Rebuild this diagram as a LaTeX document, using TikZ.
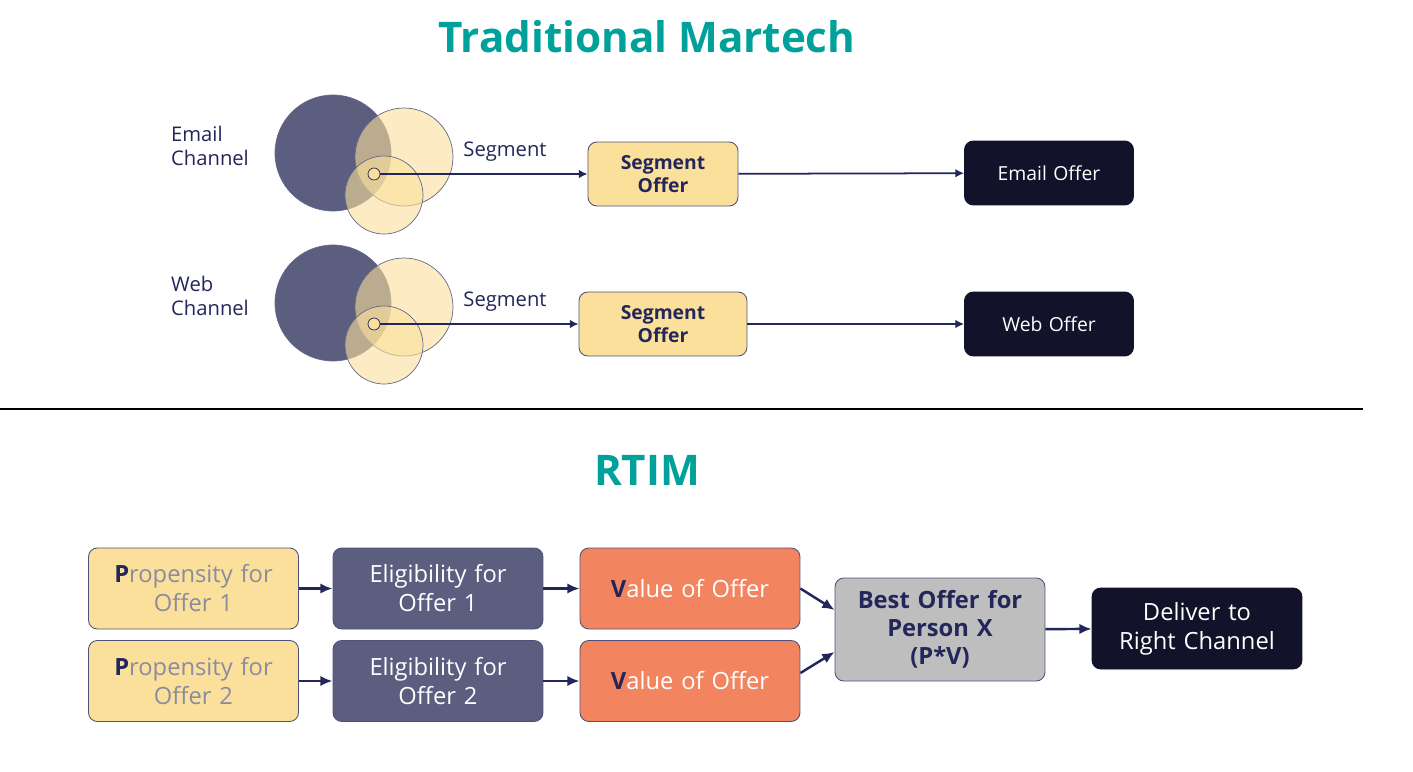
\documentclass[tikz,border=0pt]{standalone}
\usepackage{fontspec}
\setmainfont{Open Sans}
\usetikzlibrary{arrows.meta}
\definecolor{teal}{HTML}{00A19A}
\definecolor{navy}{HTML}{23265A}
\definecolor{dark}{HTML}{12122A}
\definecolor{cream}{HTML}{FBE09B}
\definecolor{slate}{HTML}{5C5E80}
\definecolor{coral}{HTML}{F28560}
\definecolor{greyb}{HTML}{BEBEBE}
\definecolor{greyt}{HTML}{8B8BA0}
\begin{document}
\begin{tikzpicture}[x=0.02cm,y=-0.02cm,
  box/.style={draw=navy!80,line width=0.5pt,rounded corners=5pt,align=center,inner sep=0pt},
  arr/.style={navy,line width=1.4pt,-{Latex[length=7pt,width=6pt]}},
  arrs/.style={navy,line width=1pt,-{Latex[length=5pt,width=5pt]}},
  lbl/.style={text=navy,font=\fontsize{11.5}{14}\selectfont,align=left},
  big/.style={font=\fontsize{13.5}{16.5}\selectfont}]
\useasboundingbox (0,0) rectangle (1413,771);
\node[text=teal,font=\bfseries\fontsize{24}{28}\selectfont] (t1) at (647,37) {Traditional Martech};
\node[text=teal,font=\bfseries\fontsize{24}{28}\selectfont] (t2) at (647,470) {RTIM};
% venn top
\foreach \dy/\n in {0/a,150/b}{
  \fill[slate,draw=navy!70] (333,153+\dy) circle (58);
  \fill[cream,fill opacity=0.6,draw=navy!70,draw opacity=1] (404,157+\dy) circle (49);
  \fill[cream,fill opacity=0.6,draw=navy!70,draw opacity=1] (384,195+\dy) circle (39);
  \draw[navy,fill=cream] (374,174+\dy) circle (6);
  \coordinate (dot\n) at (380,174+\dy);
}
\node[lbl,anchor=west] (l1) at (165,146) {Email\\Channel};
\node[lbl,anchor=west] (l2) at (165,296) {Web\\Channel};
\node[lbl] (s1) at (505,152) {Segment};
\node[lbl] (s2) at (505,302) {Segment};
\node[box,fill=cream,minimum width=168\pgflinewidth,text width=3cm,minimum height=1.28cm,text=navy,font=\bfseries\fontsize{11}{13}\selectfont] (so1) at (663,174) {Segment\\Offer};
\node[box,fill=cream,text width=3.36cm,minimum height=1.28cm,text=navy,font=\bfseries\fontsize{11}{13}\selectfont] (so2) at (663,324) {Segment\\Offer};
\node[box,fill=dark,draw=dark,text width=3.38cm,minimum height=1.28cm,text=white,font=\fontsize{11}{13}\selectfont] (eo) at (1049,173) {Email Offer};
\node[box,fill=dark,draw=dark,text width=3.38cm,minimum height=1.28cm,text=white,font=\fontsize{11}{13}\selectfont] (wo) at (1049,324) {Web Offer};
\draw[arrs] (dota) -- (so1);
\draw[arrs] (dotb) -- (so2);
\draw[arrs] (so1) -- (eo);
\draw[arrs] (so2) -- (wo);
\draw[black,line width=0.6pt] (0,409) -- (1363,409);
% RTIM
\tikzset{rb/.style={box,text width=4.2cm,minimum height=1.62cm,big}}
\node[rb,fill=cream,text=greyt] (p1) at (193.5,588.5) {\textcolor{navy}{\bfseries P}ropensity for\\Offer 1};
\node[rb,fill=cream,text=greyt] (p2) at (193.5,681) {\textcolor{navy}{\bfseries P}ropensity for\\Offer 2};
\node[rb,fill=slate,text=white] (e1) at (438,588.5) {Eligibility for\\Offer 1};
\node[rb,fill=slate,text=white] (e2) at (438,681) {Eligibility for\\Offer 2};
\node[rb,fill=coral,text=white,text width=4.4cm] (v1) at (690,588.5) {\textcolor{navy}{\bfseries V}alue of Offer};
\node[rb,fill=coral,text=white,text width=4.4cm] (v2) at (690,681) {\textcolor{navy}{\bfseries V}alue of Offer};
\node[rb,fill=greyb,text=navy,minimum height=2.06cm,font=\bfseries\fontsize{13.5}{16}\selectfont] (b) at (940,629.5) {Best Offer for\\Person X\\(P*V)};
\node[rb,fill=dark,draw=dark,text=white] (d) at (1197,628.5) {Deliver to\\Right Channel};
\draw[arr] (p1) -- (e1);
\draw[arr] (p2) -- (e2);
\draw[arr] (e1) -- (v1);
\draw[arr] (e2) -- (v2);
\draw[arr] (v1.east) ++(0,0) -- (b.west |- 0,610);
\draw[arr] (v2.east) ++(0,-8) -- (b.west |- 0,652);
\draw[arr] (b) -- (d);
\end{tikzpicture}
\end{document}
